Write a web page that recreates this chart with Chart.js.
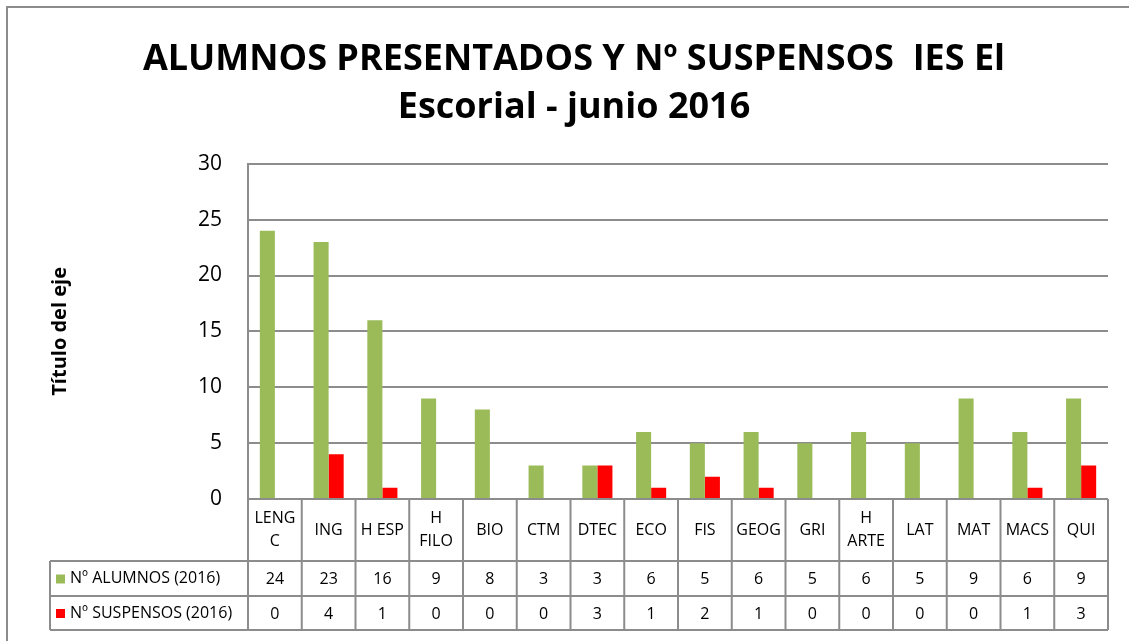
<!DOCTYPE html>
<html>
<head>
<meta charset="utf-8">
<script src="https://cdn.jsdelivr.net/npm/chart.js@4.4.0/dist/chart.umd.min.js"></script>
<style>
  html, body { margin: 0; padding: 0; background: #fff; overflow: hidden; }
  #chart { display: block; }
</style>
</head>
<body>
<canvas id="chart" width="1129" height="641"></canvas>
<script>
// datos del gráfico
var asignaturas = [['LENG', 'C'], 'ING', 'H ESP', ['H', 'FILO'], 'BIO', 'CTM', 'DTEC', 'ECO', 'FIS', 'GEOG', 'GRI', ['H', 'ARTE'], 'LAT', 'MAT', 'MACS', 'QUI'];
var alumnos = [24, 23, 16, 9, 8, 3, 3, 6, 5, 6, 5, 6, 5, 9, 6, 9];
var suspensos = [0, 4, 1, 0, 0, 0, 3, 1, 2, 1, 0, 0, 0, 0, 1, 3];
var tituloGrafico = ['ALUMNOS PRESENTADOS Y Nº SUSPENSOS  IES El', 'Escorial - junio 2016'];

var FUENTE = "'Open Sans', 'Noto Sans', sans-serif";
var GRIS = '#8c8c8c';

// marco del gráfico (solo bordes izquierdo y superior se ven)
var marco = {
  id: 'marco',
  beforeDraw: function (chart) {
    var ctx = chart.ctx;
    ctx.save();
    ctx.strokeStyle = GRIS;
    ctx.lineWidth = 2;
    ctx.beginPath();
    ctx.moveTo(7, chart.height);
    ctx.lineTo(7, 7);
    ctx.lineTo(chart.width, 7);
    ctx.stroke();
    ctx.restore();
  }
};

// tabla de datos bajo el eje x (como en Excel)
var tablaDatos = {
  id: 'tablaDatos',
  afterDraw: function (chart) {
    var ctx = chart.ctx;
    var x = chart.scales.x;
    var area = chart.chartArea;
    var n = chart.data.labels.length;
    var ancho = (area.right - area.left) / n;
    var yTop = area.bottom, yFila1 = 561, yFila2 = 596, yFin = 630;
    var xLeyenda = 50;

    ctx.save();
    ctx.strokeStyle = GRIS;
    ctx.lineWidth = 2;
    ctx.beginPath();
    // horizontales
    ctx.moveTo(area.left, yTop); ctx.lineTo(area.right, yTop);
    ctx.moveTo(xLeyenda, yFila1); ctx.lineTo(area.right, yFila1);
    ctx.moveTo(xLeyenda, yFila2); ctx.lineTo(area.right, yFila2);
    ctx.moveTo(xLeyenda, yFin); ctx.lineTo(area.right, yFin);
    // verticales
    ctx.moveTo(xLeyenda, yFila1); ctx.lineTo(xLeyenda, yFin);
    for (var i = 0; i <= n; i++) {
      var xx = area.left + i * ancho;
      ctx.moveTo(xx, yTop); ctx.lineTo(xx, yFin);
    }
    ctx.stroke();

    ctx.fillStyle = '#000';
    ctx.font = '16px ' + FUENTE;
    ctx.textAlign = 'center';
    ctx.textBaseline = 'middle';
    chart.data.labels.forEach(function (lab, i) {
      var cx = x.getPixelForValue(i);
      var lineas = Array.isArray(lab) ? lab : [lab];
      var y0 = (yTop + yFila1) / 2 - (lineas.length - 1) * 11.5;
      lineas.forEach(function (t, j) { ctx.fillText(t, cx, y0 + j * 23); });
    });
    chart.data.datasets.forEach(function (ds, k) {
      var yc = k === 0 ? (yFila1 + yFila2) / 2 : (yFila2 + yFin) / 2;
      ctx.textAlign = 'center';
      ds.data.forEach(function (v, i) {
        ctx.fillText(String(v), x.getPixelForValue(i), yc + 1);
      });
      ctx.fillStyle = ds.backgroundColor;
      ctx.fillRect(56, yc - 4, 9, 9);
      ctx.fillStyle = '#000';
      ctx.textAlign = 'left';
      ctx.fillText(ds.label, 70, yc);
    });
    ctx.restore();
  }
};

var ctx = document.getElementById('chart').getContext('2d');
var grafico = new Chart(ctx, {
  type: 'bar',
  data: {
    labels: asignaturas,
    datasets: [
      { label: 'Nº ALUMNOS (2016)', data: alumnos, backgroundColor: '#9bbb59', borderWidth: 0 },
      { label: 'Nº SUSPENSOS (2016)', data: suspensos, backgroundColor: '#ff0000', borderWidth: 0 }
    ]
  },
  options: {
    responsive: false,
    animation: false,
    categoryPercentage: 0.56,
    barPercentage: 1.0,
    layout: { padding: { left: 40, right: 21, top: 0, bottom: 10 } },
    plugins: {
      legend: { display: false },
      tooltip: { enabled: false },
      title: {
        display: true,
        text: tituloGrafico,
        color: '#000',
        font: { family: FUENTE, size: 36, weight: 'bold', lineHeight: 1.33 },
        padding: { top: 36, bottom: 32 }
      }
    },
    scales: {
      x: {
        grid: { display: false },
        border: { display: false },
        ticks: { display: false },
        afterFit: function (s) { s.height = 132; }
      },
      y: {
        min: 0, max: 30,
        ticks: { stepSize: 5, color: '#000', padding: 26, font: { family: FUENTE, size: 21 } },
        grid: { color: GRIS, lineWidth: 2, drawTicks: false },
        border: { display: true, color: GRIS, width: 2 },
        title: {
          display: true,
          text: 'Título del eje',
          color: '#000',
          font: { family: FUENTE, size: 20, weight: 'bold' },
          padding: { top: 8, bottom: 0 }
        },
        afterFit: function (s) { s.width = 208; }
      }
    }
  },
  plugins: [marco, tablaDatos]
});
</script>
</body>
</html>
